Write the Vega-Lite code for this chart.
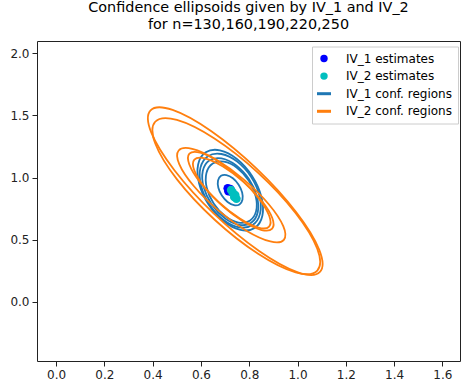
{
  "$schema": "https://vega.github.io/schema/vega-lite/v6.json",
  "width": 423,
  "height": 320,
  "autosize": {"type": "none"},
  "padding": {"left": 37, "top": 41, "right": 1, "bottom": 24},
  "background": "white",
  "title": {
    "text": ["Confidence ellipsoids given by IV_1 and IV_2", "for n=130,160,190,220,250"],
    "font": "DejaVu Sans",
    "fontSize": 14.4,
    "fontWeight": "normal",
    "color": "black",
    "anchor": "middle",
    "baseline": "bottom",
    "lineHeight": 16.5,
    "offset": 5,
    "dy": 10
  },
  "config": {
    "view": {"stroke": "#222222", "strokeWidth": 1},
    "axis": {
      "domain": false,
      "grid": false,
      "ticks": true,
      "tickColor": "#222222",
      "tickSize": 5,
      "labelFont": "DejaVu Sans",
      "labelFontSize": 12,
      "labelColor": "#222222",
      "labelPadding": 3,
      "title": null
    }
  },
  "datasets": {
    "ell": [
      {"e":"B1","s":"IV_1 conf. regions","k":0,"x":0.8228,"y":0.5955},
      {"e":"B1","s":"IV_1 conf. regions","k":1,"x":0.7640,"y":0.5792},
      {"e":"B1","s":"IV_1 conf. regions","k":2,"x":0.6939,"y":0.6487},
      {"e":"B1","s":"IV_1 conf. regions","k":3,"x":0.6311,"y":0.7854},
      {"e":"B1","s":"IV_1 conf. regions","k":4,"x":0.5925,"y":0.9527},
      {"e":"B1","s":"IV_1 conf. regions","k":5,"x":0.5884,"y":1.1056},
      {"e":"B1","s":"IV_1 conf. regions","k":6,"x":0.6200,"y":1.2033},
      {"e":"B1","s":"IV_1 conf. regions","k":7,"x":0.6788,"y":1.2196},
      {"e":"B1","s":"IV_1 conf. regions","k":8,"x":0.7489,"y":1.1501},
      {"e":"B1","s":"IV_1 conf. regions","k":9,"x":0.8117,"y":1.0134},
      {"e":"B1","s":"IV_1 conf. regions","k":10,"x":0.8503,"y":0.8461},
      {"e":"B1","s":"IV_1 conf. regions","k":11,"x":0.8544,"y":0.6932},
      {"e":"B2","s":"IV_1 conf. regions","k":0,"x":0.8138,"y":0.6184},
      {"e":"B2","s":"IV_1 conf. regions","k":1,"x":0.7580,"y":0.6006},
      {"e":"B2","s":"IV_1 conf. regions","k":2,"x":0.6924,"y":0.6618},
      {"e":"B2","s":"IV_1 conf. regions","k":3,"x":0.6346,"y":0.7856},
      {"e":"B2","s":"IV_1 conf. regions","k":4,"x":0.6000,"y":0.9388},
      {"e":"B2","s":"IV_1 conf. regions","k":5,"x":0.5980,"y":1.0802},
      {"e":"B2","s":"IV_1 conf. regions","k":6,"x":0.6290,"y":1.1722},
      {"e":"B2","s":"IV_1 conf. regions","k":7,"x":0.6848,"y":1.1900},
      {"e":"B2","s":"IV_1 conf. regions","k":8,"x":0.7504,"y":1.1288},
      {"e":"B2","s":"IV_1 conf. regions","k":9,"x":0.8082,"y":1.0050},
      {"e":"B2","s":"IV_1 conf. regions","k":10,"x":0.8428,"y":0.8518},
      {"e":"B2","s":"IV_1 conf. regions","k":11,"x":0.8448,"y":0.7104},
      {"e":"B3","s":"IV_1 conf. regions","k":0,"x":0.8082,"y":0.6370},
      {"e":"B3","s":"IV_1 conf. regions","k":1,"x":0.7580,"y":0.6198},
      {"e":"B3","s":"IV_1 conf. regions","k":2,"x":0.6979,"y":0.6744},
      {"e":"B3","s":"IV_1 conf. regions","k":3,"x":0.6442,"y":0.7860},
      {"e":"B3","s":"IV_1 conf. regions","k":4,"x":0.6111,"y":0.9248},
      {"e":"B3","s":"IV_1 conf. regions","k":5,"x":0.6076,"y":1.0534},
      {"e":"B3","s":"IV_1 conf. regions","k":6,"x":0.6346,"y":1.1376},
      {"e":"B3","s":"IV_1 conf. regions","k":7,"x":0.6848,"y":1.1548},
      {"e":"B3","s":"IV_1 conf. regions","k":8,"x":0.7449,"y":1.1002},
      {"e":"B3","s":"IV_1 conf. regions","k":9,"x":0.7986,"y":0.9886},
      {"e":"B3","s":"IV_1 conf. regions","k":10,"x":0.8317,"y":0.8498},
      {"e":"B3","s":"IV_1 conf. regions","k":11,"x":0.8352,"y":0.7212},
      {"e":"B4","s":"IV_1 conf. regions","k":0,"x":0.8023,"y":0.6537},
      {"e":"B4","s":"IV_1 conf. regions","k":1,"x":0.7555,"y":0.6384},
      {"e":"B4","s":"IV_1 conf. regions","k":2,"x":0.7009,"y":0.6887},
      {"e":"B4","s":"IV_1 conf. regions","k":3,"x":0.6527,"y":0.7912},
      {"e":"B4","s":"IV_1 conf. regions","k":4,"x":0.6241,"y":0.9183},
      {"e":"B4","s":"IV_1 conf. regions","k":5,"x":0.6227,"y":1.0360},
      {"e":"B4","s":"IV_1 conf. regions","k":6,"x":0.6489,"y":1.1129},
      {"e":"B4","s":"IV_1 conf. regions","k":7,"x":0.6957,"y":1.1282},
      {"e":"B4","s":"IV_1 conf. regions","k":8,"x":0.7503,"y":1.0779},
      {"e":"B4","s":"IV_1 conf. regions","k":9,"x":0.7985,"y":0.9754},
      {"e":"B4","s":"IV_1 conf. regions","k":10,"x":0.8271,"y":0.8483},
      {"e":"B4","s":"IV_1 conf. regions","k":11,"x":0.8285,"y":0.7306},
      {"e":"B5","s":"IV_1 conf. regions","k":0,"x":0.7597,"y":0.7846},
      {"e":"B5","s":"IV_1 conf. regions","k":1,"x":0.7372,"y":0.7780},
      {"e":"B5","s":"IV_1 conf. regions","k":2,"x":0.7105,"y":0.8040},
      {"e":"B5","s":"IV_1 conf. regions","k":3,"x":0.6867,"y":0.8555},
      {"e":"B5","s":"IV_1 conf. regions","k":4,"x":0.6721,"y":0.9188},
      {"e":"B5","s":"IV_1 conf. regions","k":5,"x":0.6708,"y":0.9768},
      {"e":"B5","s":"IV_1 conf. regions","k":6,"x":0.6831,"y":1.0142},
      {"e":"B5","s":"IV_1 conf. regions","k":7,"x":0.7056,"y":1.0208},
      {"e":"B5","s":"IV_1 conf. regions","k":8,"x":0.7323,"y":0.9948},
      {"e":"B5","s":"IV_1 conf. regions","k":9,"x":0.7561,"y":0.9433},
      {"e":"B5","s":"IV_1 conf. regions","k":10,"x":0.7707,"y":0.8800},
      {"e":"B5","s":"IV_1 conf. regions","k":11,"x":0.7720,"y":0.8220},
      {"e":"O1","s":"IV_2 conf. regions","k":0,"x":1.0928,"y":0.2417},
      {"e":"O1","s":"IV_2 conf. regions","k":1,"x":1.0015,"y":0.2383},
      {"e":"O1","s":"IV_2 conf. regions","k":2,"x":0.8409,"y":0.4099},
      {"e":"O1","s":"IV_2 conf. regions","k":3,"x":0.6536,"y":0.7105},
      {"e":"O1","s":"IV_2 conf. regions","k":4,"x":0.4901,"y":1.0595},
      {"e":"O1","s":"IV_2 conf. regions","k":5,"x":0.3941,"y":1.3635},
      {"e":"O1","s":"IV_2 conf. regions","k":6,"x":0.3914,"y":1.5409},
      {"e":"O1","s":"IV_2 conf. regions","k":7,"x":0.4827,"y":1.5443},
      {"e":"O1","s":"IV_2 conf. regions","k":8,"x":0.6433,"y":1.3727},
      {"e":"O1","s":"IV_2 conf. regions","k":9,"x":0.8306,"y":1.0721},
      {"e":"O1","s":"IV_2 conf. regions","k":10,"x":0.9941,"y":0.7231},
      {"e":"O1","s":"IV_2 conf. regions","k":11,"x":1.0901,"y":0.4191},
      {"e":"O2","s":"IV_2 conf. regions","k":0,"x":1.0820,"y":0.2526},
      {"e":"O2","s":"IV_2 conf. regions","k":1,"x":0.9922,"y":0.2378},
      {"e":"O2","s":"IV_2 conf. regions","k":2,"x":0.8367,"y":0.3873},
      {"e":"O2","s":"IV_2 conf. regions","k":3,"x":0.6568,"y":0.6611},
      {"e":"O2","s":"IV_2 conf. regions","k":4,"x":0.5009,"y":0.9857},
      {"e":"O2","s":"IV_2 conf. regions","k":5,"x":0.4108,"y":1.2742},
      {"e":"O2","s":"IV_2 conf. regions","k":6,"x":0.4106,"y":1.4494},
      {"e":"O2","s":"IV_2 conf. regions","k":7,"x":0.5004,"y":1.4642},
      {"e":"O2","s":"IV_2 conf. regions","k":8,"x":0.6559,"y":1.3147},
      {"e":"O2","s":"IV_2 conf. regions","k":9,"x":0.8358,"y":1.0409},
      {"e":"O2","s":"IV_2 conf. regions","k":10,"x":0.9917,"y":0.7163},
      {"e":"O2","s":"IV_2 conf. regions","k":11,"x":1.0818,"y":0.4278},
      {"e":"O3","s":"IV_2 conf. regions","k":0,"x":0.9434,"y":0.4998},
      {"e":"O3","s":"IV_2 conf. regions","k":1,"x":0.8874,"y":0.4865},
      {"e":"O3","s":"IV_2 conf. regions","k":2,"x":0.7881,"y":0.5731},
      {"e":"O3","s":"IV_2 conf. regions","k":3,"x":0.6720,"y":0.7363},
      {"e":"O3","s":"IV_2 conf. regions","k":4,"x":0.5703,"y":0.9325},
      {"e":"O3","s":"IV_2 conf. regions","k":5,"x":0.5102,"y":1.1089},
      {"e":"O3","s":"IV_2 conf. regions","k":6,"x":0.5078,"y":1.2184},
      {"e":"O3","s":"IV_2 conf. regions","k":7,"x":0.5638,"y":1.2317},
      {"e":"O3","s":"IV_2 conf. regions","k":8,"x":0.6631,"y":1.1451},
      {"e":"O3","s":"IV_2 conf. regions","k":9,"x":0.7792,"y":0.9819},
      {"e":"O3","s":"IV_2 conf. regions","k":10,"x":0.8809,"y":0.7857},
      {"e":"O3","s":"IV_2 conf. regions","k":11,"x":0.9410,"y":0.6093},
      {"e":"O4","s":"IV_2 conf. regions","k":0,"x":0.8824,"y":0.6062},
      {"e":"O4","s":"IV_2 conf. regions","k":1,"x":0.8379,"y":0.5979},
      {"e":"O4","s":"IV_2 conf. regions","k":2,"x":0.7612,"y":0.6704},
      {"e":"O4","s":"IV_2 conf. regions","k":3,"x":0.6726,"y":0.8042},
      {"e":"O4","s":"IV_2 conf. regions","k":4,"x":0.5960,"y":0.9636},
      {"e":"O4","s":"IV_2 conf. regions","k":5,"x":0.5519,"y":1.1057},
      {"e":"O4","s":"IV_2 conf. regions","k":6,"x":0.5522,"y":1.1926},
      {"e":"O4","s":"IV_2 conf. regions","k":7,"x":0.5967,"y":1.2009},
      {"e":"O4","s":"IV_2 conf. regions","k":8,"x":0.6734,"y":1.1284},
      {"e":"O4","s":"IV_2 conf. regions","k":9,"x":0.7620,"y":0.9946},
      {"e":"O4","s":"IV_2 conf. regions","k":10,"x":0.8386,"y":0.8352},
      {"e":"O4","s":"IV_2 conf. regions","k":11,"x":0.8827,"y":0.6931},
      {"e":"O5","s":"IV_2 conf. regions","k":0,"x":0.8951,"y":0.5896},
      {"e":"O5","s":"IV_2 conf. regions","k":1,"x":0.8515,"y":0.5785},
      {"e":"O5","s":"IV_2 conf. regions","k":2,"x":0.7765,"y":0.6447},
      {"e":"O5","s":"IV_2 conf. regions","k":3,"x":0.6900,"y":0.7706},
      {"e":"O5","s":"IV_2 conf. regions","k":4,"x":0.6153,"y":0.9223},
      {"e":"O5","s":"IV_2 conf. regions","k":5,"x":0.5723,"y":1.0591},
      {"e":"O5","s":"IV_2 conf. regions","k":6,"x":0.5727,"y":1.1446},
      {"e":"O5","s":"IV_2 conf. regions","k":7,"x":0.6163,"y":1.1557},
      {"e":"O5","s":"IV_2 conf. regions","k":8,"x":0.6913,"y":1.0895},
      {"e":"O5","s":"IV_2 conf. regions","k":9,"x":0.7778,"y":0.9636},
      {"e":"O5","s":"IV_2 conf. regions","k":10,"x":0.8525,"y":0.8119},
      {"e":"O5","s":"IV_2 conf. regions","k":11,"x":0.8955,"y":0.6751}
    ],
    "est": [
      {"s":"IV_1 estimates","x":0.7110,"y":0.9140},
      {"s":"IV_1 estimates","x":0.7194,"y":0.8994},
      {"s":"IV_1 estimates","x":0.7256,"y":0.8873},
      {"s":"IV_1 estimates","x":0.7214,"y":0.9074},
      {"s":"IV_1 estimates","x":0.7140,"y":0.8913},
      {"s":"IV_2 estimates","x":0.7250,"y":0.9000},
      {"s":"IV_2 estimates","x":0.7318,"y":0.8792},
      {"s":"IV_2 estimates","x":0.7420,"y":0.8600},
      {"s":"IV_2 estimates","x":0.7470,"y":0.8300},
      {"s":"IV_2 estimates","x":0.7380,"y":0.8450}
    ]
  },
  "encoding": {
    "x": {
      "field": "x", "type": "quantitative",
      "scale": {"domain": [-0.079, 1.673], "nice": false, "zero": false},
      "axis": {"values": [0, 0.2, 0.4, 0.6, 0.8, 1.0, 1.2, 1.4, 1.6], "format": ".1f"}
    },
    "y": {
      "field": "y", "type": "quantitative",
      "scale": {"domain": [-0.475, 2.099], "nice": false, "zero": false},
      "axis": {"values": [0, 0.5, 1.0, 1.5, 2.0], "format": ".1f"}
    },
    "color": {
      "field": "s", "type": "nominal",
      "scale": {
        "domain": ["IV_1 estimates", "IV_2 estimates", "IV_1 conf. regions", "IV_2 conf. regions"],
        "range": ["#0000ff", "#00bfbf", "#1f77b4", "#ff7f0e"]
      },
      "legend": {
        "title": null,
        "orient": "none",
        "legendX": 275,
        "legendY": 5.5,
        "padding": 6,
        "fillColor": "white",
        "strokeColor": "#cccccc",
        "labelFont": "DejaVu Sans",
        "labelFontSize": 12,
        "labelColor": "black",
        "labelOffset": 16,
        "rowPadding": 5.6,
        "symbolSize": 196,
        "encode": {
          "symbols": {
            "update": {
              "shape": {"signal": "datum.value == 'IV_1 conf. regions' || datum.value == 'IV_2 conf. regions' ? 'stroke' : 'circle'"},
              "size": {"signal": "datum.value == 'IV_1 conf. regions' || datum.value == 'IV_2 conf. regions' ? 196 : 55"},
              "strokeWidth": {"signal": "datum.value == 'IV_1 conf. regions' || datum.value == 'IV_2 conf. regions' ? 3 : 0"},
              "stroke": {"signal": "datum.value == 'IV_1 conf. regions' ? '#1f88e5' : (datum.value == 'IV_2 conf. regions' ? '#ffa726' : 'white')"},
              "fill": {"signal": "datum.value == 'IV_1 estimates' ? '#0000ff' : (datum.value == 'IV_2 estimates' ? '#00bfbf' : 'white')"},
              "opacity": {"value": 1}
            }
          }
        }
      }
    }
  },
  "layer": [
    {
      "data": {"name": "ell"},
      "mark": {"type": "line", "interpolate": "cardinal-closed", "strokeWidth": 1.8},
      "encoding": {
        "detail": {"field": "e", "type": "nominal"},
        "order": {"field": "k", "type": "quantitative"}
      }
    },
    {
      "data": {"name": "est"},
      "mark": {"type": "circle", "size": 75, "opacity": 1},
      "encoding": {}
    }
  ]
}
